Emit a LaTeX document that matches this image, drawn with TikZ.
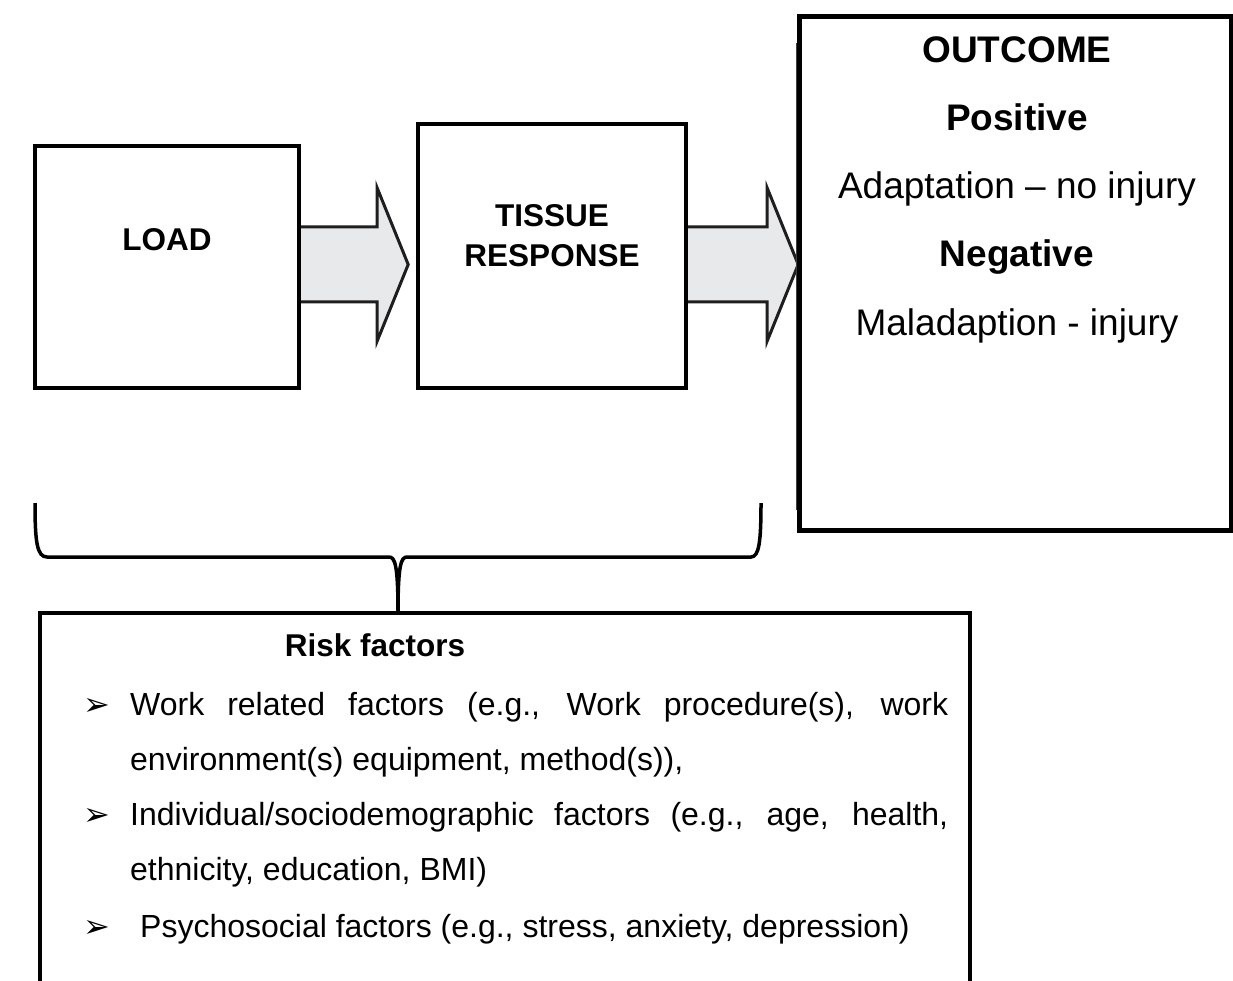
\documentclass[tikz,border=0pt]{standalone}
\usepackage{fontspec}
\setmainfont{Liberation Sans}
\newfontfamily\dejavu{DejaVu Sans}
\usetikzlibrary{calc}
\definecolor{arrowgrey}{HTML}{E8E9EB}
\definecolor{arrowline}{HTML}{1E1E1E}
\begin{document}
\begin{tikzpicture}[x=1pt,y=-1pt,
  boxstyle/.style={draw=black, line width=4pt, inner sep=0pt},
  barrow/.style={draw=arrowline, line width=3pt, fill=arrowgrey, line join=miter},
  bracestyle/.style={draw=black, line width=3.5pt},
  bigbold/.style={inner sep=0pt, font=\fontsize{31.5}{38}\selectfont\bfseries},
  outbold/.style={inner sep=0pt, font=\fontsize{37}{44}\selectfont\bfseries},
  outtxt/.style={inner sep=0pt, font=\fontsize{37}{44}\selectfont},
  listtxt/.style={inner sep=0pt, anchor=base west, font=\fontsize{32}{38}\selectfont},
  bulletstyle/.style={inner sep=0pt, anchor=base west, font=\dejavu\fontsize{32}{32}\selectfont}
]
\useasboundingbox (0,0) rectangle (1233,981);

% box nodes (positions only)
\coordinate (lc) at (167,267);
\coordinate (tc) at (552,256);
\coordinate (oc) at (1015.5,273.5);

\path node[inner sep=0pt, minimum width=264pt, minimum height=242pt] (load) at (lc) {}
      node[inner sep=0pt, minimum width=268pt, minimum height=264pt] (tissue) at (tc) {}
      node[inner sep=0pt, minimum width=431pt, minimum height=513pt] (outcome) at (oc) {};

% block arrows (drawn first so box lines sit on top)
\coordinate (a1) at ($(load.east)+(0,-2.5)$);
\draw[barrow] (a1) ++(0,-37.5) -- ++(78,0) -- ++(0,-39) -- ++(31,76.5) -- ++(-31,76.5) -- ++(0,-39) -- ++(-78,0);
\coordinate (a2) at ($(tissue.east)+(0,8.5)$);
\draw[barrow] (a2) ++(0,-37.5) -- ++(81,0) -- ++(0,-39) -- ++(31,76.5) -- ++(-31,76.5) -- ++(0,-39) -- ++(-81,0);

% boxes
\draw[boxstyle] (load.north west) rectangle (load.south east);
\draw[boxstyle] (tissue.north west) rectangle (tissue.south east);
\draw[draw=black!75, line width=1.5pt] (796.5,43) -- (796.5,510);
\draw[boxstyle, line width=5pt] (outcome.north west) rectangle (outcome.south east);

% texts in the upper boxes
\node[bigbold, anchor=base] (loadtxt) at (167,251) {LOAD};
\node[bigbold, anchor=base] (tissuetxt1) at (552,227) {TISSUE};
\node[bigbold, anchor=base] (tissuetxt2) at (552,267) {RESPONSE};

\node[outbold, anchor=base] (o1) at (1017,63) {OUTCOME};
\node[outbold, anchor=base] (o2) at (1017,131) {Positive};
\node[outtxt, anchor=base] (o3) at (1017,199) {Adaptation – no injury};
\node[outbold, anchor=base] (o4) at (1017,267) {Negative};
\node[outtxt, anchor=base] (o5) at (1017,335) {Maladaption - injury};

% brace
\coordinate (brL) at (35,503);
\coordinate (brR) at (761,503);
\coordinate (brM) at (398,613);
\draw[bracestyle] (brL) .. controls (35,542) and (37,557) .. (47,557) -- (389,557) .. controls (395,557) and (398,565) .. (brM);
\draw[bracestyle] (brM) .. controls (398,565) and (401,557) .. (407,557) -- (751,557) .. controls (759,557) and (761,542) .. (brR);

% risk factors box (bottom runs off the page)
\draw[boxstyle] (40,984) -- (40,613) -- (970,613) -- (970,984);

\node[bigbold, anchor=base] (risk) at (375,656) {Risk factors};

\node[bulletstyle] (b1) at (83,715) {➢};
\node[listtxt] (l1) at (130,715) {\makebox[818pt][s]{Work related factors (e.g., Work procedure(s), work}};
\node[listtxt] (l2) at (130,770) {environment(s) equipment, method(s)),};
\node[bulletstyle] (b2) at (83,825) {➢};
\node[listtxt] (l3) at (130,825) {\makebox[818pt][s]{Individual/sociodemographic factors (e.g., age, health,}};
\node[listtxt] (l4) at (130,880) {ethnicity, education, BMI)};
\node[bulletstyle] (b3) at (83,937) {➢};
\node[listtxt] (l5) at (140,937) {Psychosocial factors (e.g., stress, anxiety, depression)};
\end{tikzpicture}
\end{document}
